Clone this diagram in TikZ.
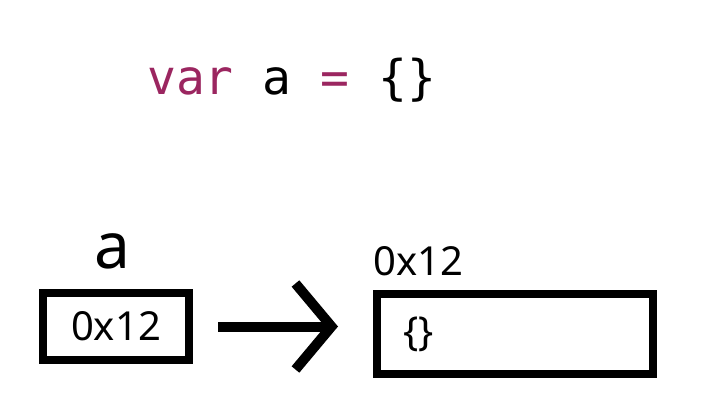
\documentclass[tikz,border=0pt]{standalone}
\usepackage{fontspec}
\setmainfont{Noto Sans}
\newfontfamily\codefont{DejaVu Sans Mono}
\usetikzlibrary{arrows.meta}
\usetikzlibrary{positioning}
\definecolor{kwpurple}{RGB}{155,38,96}

\begin{document}
\begin{tikzpicture}[x = 1pt, y = -1pt]
	\tikzstyle{cellStyle} = [draw, line width = 8pt, font = \fontsize{40}{48}\selectfont]
	\tikzstyle{nameStyle} = [inner sep = 0pt, font = \fontsize{40}{48}\selectfont]
	\tikzstyle{pointerStyle} = [line width = 10pt, -{Straight Barb[length = 36pt, width = 86pt]}]
	\useasboundingbox (0,0) rectangle (704,412);
	\node[anchor = base west, inner sep = 0pt, font = \codefont\fontsize{48}{56}\selectfont] (code) at (147,95) {\textcolor{kwpurple}{var} a \textcolor{kwpurple}{=} \{\}};
	\node[cellStyle, anchor = north west, minimum width = 146pt, minimum height = 67pt] (lbox) at (39,289) {0x12};
	\node[cellStyle, anchor = north west, minimum width = 276pt, minimum height = 80pt, text width = 224pt, inner xsep = 26pt, align = left] (rbox) at (373,290) {\{\}};
	\node[nameStyle, font = \fontsize{64}{72}\selectfont, anchor = base] (aname) at (112,268) {a};
	\node[nameStyle, anchor = base west] (addr) at (373,275) {0x12};
	\draw[pointerStyle, shorten <= 25pt, shorten >= 35pt] (lbox.east) -- (lbox.east -| rbox.west);
\end{tikzpicture}
\end{document}
